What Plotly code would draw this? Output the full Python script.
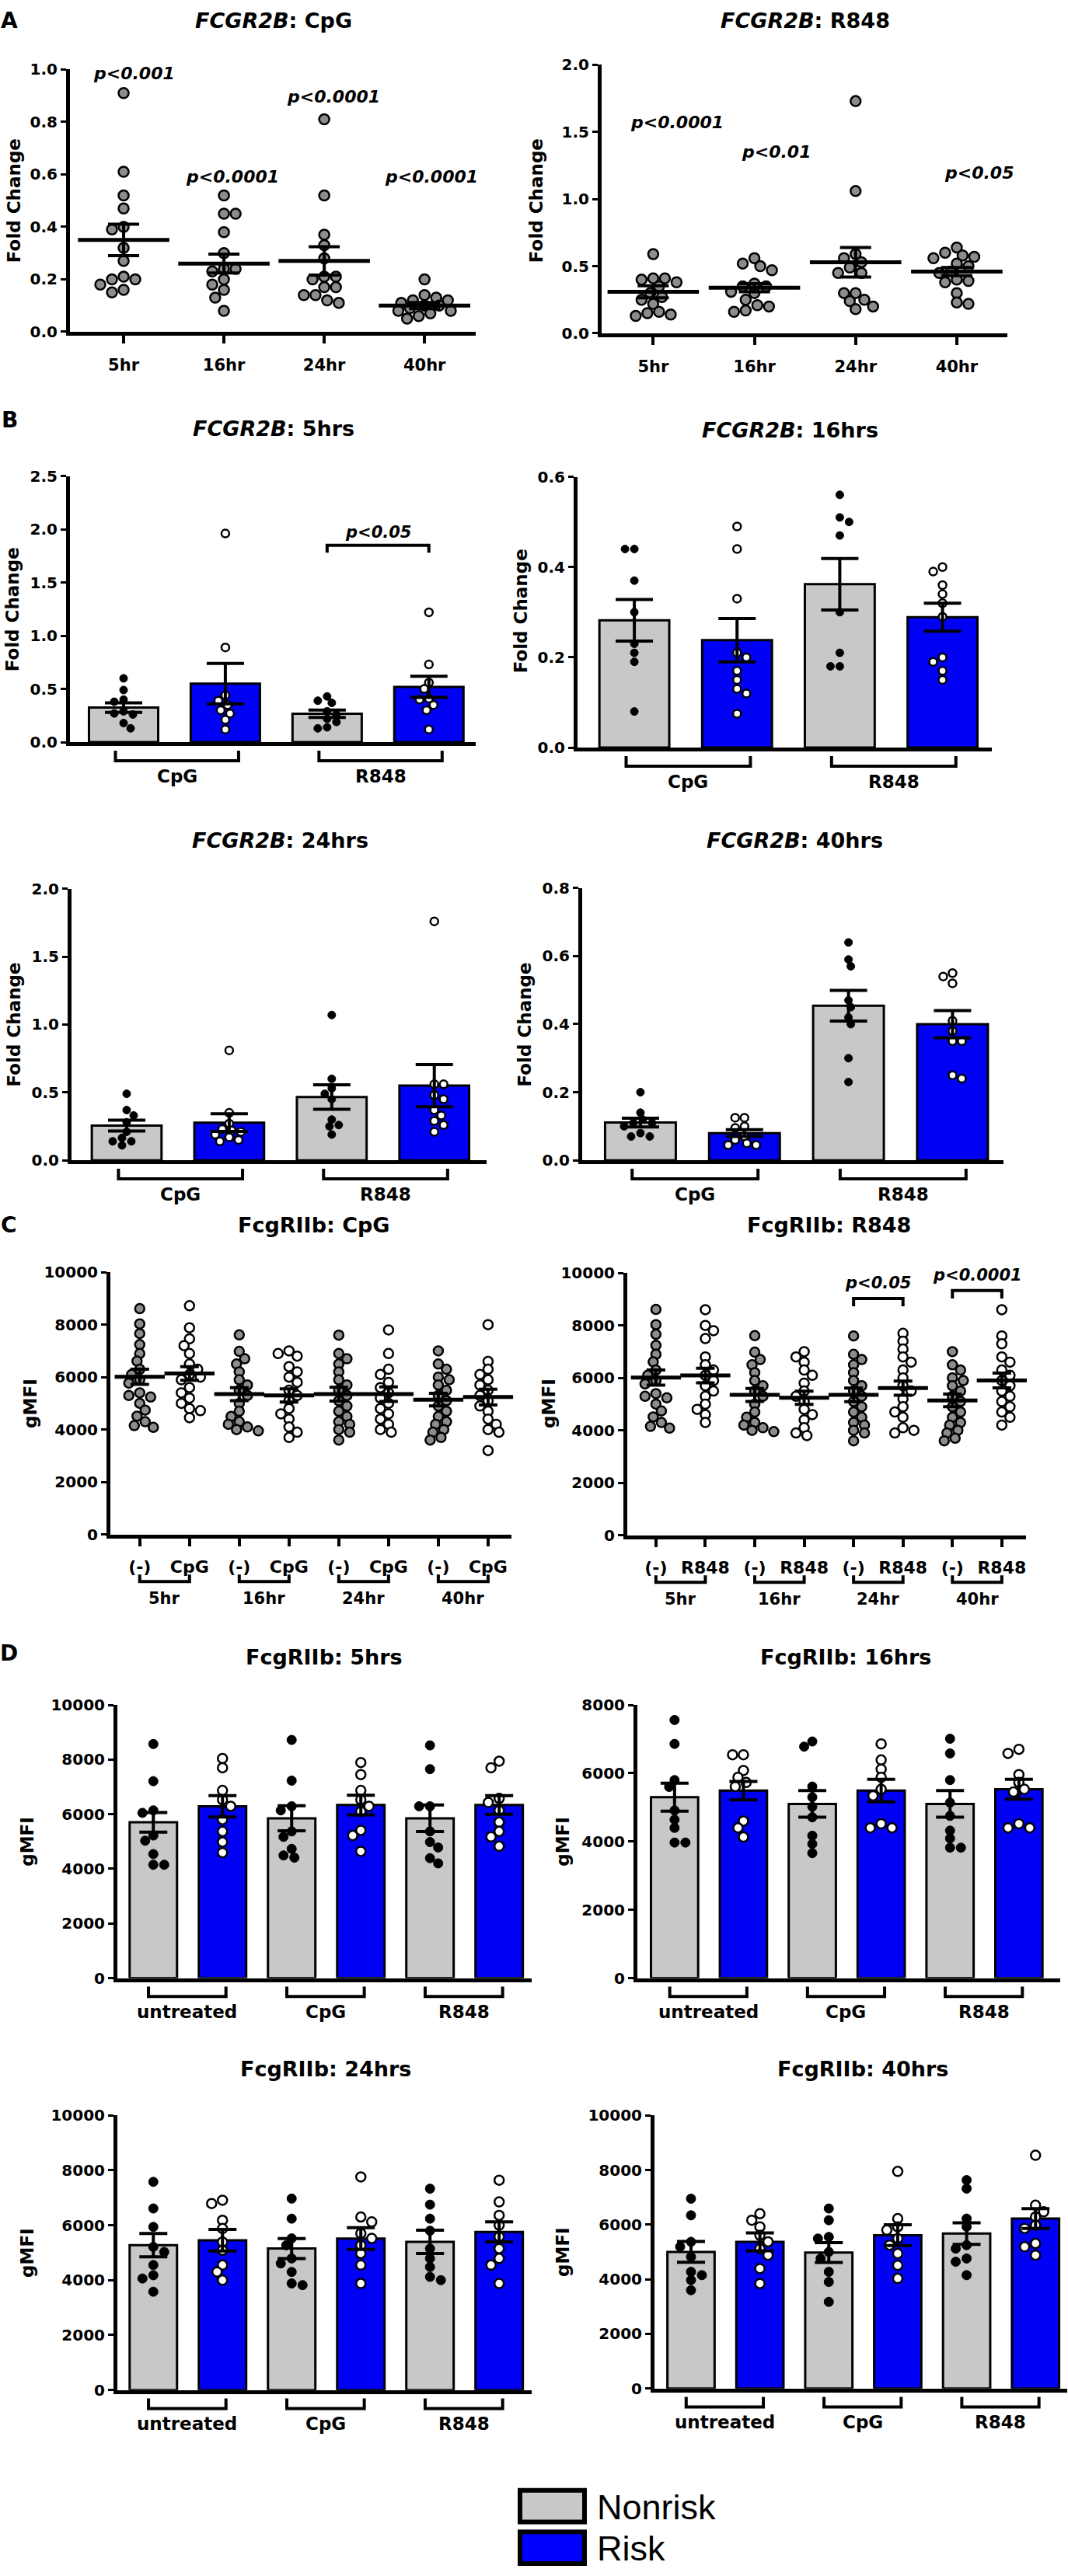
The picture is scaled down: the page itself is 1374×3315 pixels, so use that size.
import plotly.graph_objects as go

# ============================ DATA ============================
time_labels = ["5hr", "16hr", "24hr", "40hr"]

# ---- Panel A: FCGR2B fold change, individual donors ----
a_cpg_5hr = [0.91, 0.61, 0.52, 0.47, 0.40, 0.39, 0.32, 0.27, 0.21, 0.20, 0.20, 0.18, 0.16, 0.15]
a_cpg_16hr = [0.52, 0.45, 0.45, 0.38, 0.30, 0.24, 0.24, 0.23, 0.20, 0.18, 0.16, 0.13, 0.08]
a_cpg_24hr = [0.81, 0.52, 0.37, 0.33, 0.28, 0.21, 0.21, 0.20, 0.17, 0.17, 0.14, 0.14, 0.12, 0.11]
a_cpg_40hr = [0.20, 0.14, 0.13, 0.12, 0.12, 0.11, 0.10, 0.10, 0.09, 0.08, 0.08, 0.07, 0.06, 0.05]
a_cpg_means = [0.35, 0.26, 0.27, 0.10]
a_cpg_sems = [0.06, 0.036, 0.054, 0.012]
a_cpg_pvals = ["p<0.001", "p<0.0001", "p<0.0001", "p<0.0001"]

a_r848_5hr = [0.59, 0.41, 0.41, 0.40, 0.38, 0.35, 0.30, 0.27, 0.25, 0.22, 0.16, 0.15, 0.14, 0.13]
a_r848_16hr = [0.56, 0.52, 0.50, 0.47, 0.37, 0.35, 0.35, 0.31, 0.30, 0.25, 0.21, 0.20, 0.17, 0.16]
a_r848_24hr = [1.73, 1.06, 0.59, 0.56, 0.53, 0.49, 0.45, 0.45, 0.30, 0.30, 0.25, 0.24, 0.20, 0.18]
a_r848_40hr = [0.64, 0.60, 0.58, 0.57, 0.56, 0.52, 0.50, 0.46, 0.45, 0.40, 0.39, 0.38, 0.30, 0.23, 0.22]
a_r848_means = [0.31, 0.34, 0.53, 0.46]
a_r848_sems = [0.045, 0.03, 0.11, 0.03]
a_r848_pvals = ["p<0.0001", "p<0.01", "", "p<0.05"]

# ---- Panel B: FCGR2B fold change by genotype ----
# group order: CpG-Nonrisk, CpG-Risk, R848-Nonrisk, R848-Risk
b_stim_labels = ["CpG", "R848"]
b_5hr_points = [[0.60, 0.49, 0.40, 0.38, 0.29, 0.27, 0.26, 0.18, 0.13],
                [1.96, 0.89, 0.44, 0.39, 0.35, 0.30, 0.27, 0.21, 0.12],
                [0.43, 0.39, 0.37, 0.29, 0.26, 0.22, 0.19, 0.14, 0.13],
                [1.22, 0.73, 0.56, 0.50, 0.41, 0.40, 0.35, 0.30, 0.12]]
b_5hr_means = [0.325, 0.55, 0.267, 0.52]
b_5hr_sems = [0.045, 0.19, 0.035, 0.10]

b_16hr_points = [[0.44, 0.44, 0.37, 0.30, 0.23, 0.21, 0.19, 0.08],
                 [0.49, 0.44, 0.33, 0.21, 0.20, 0.17, 0.15, 0.13, 0.12, 0.075],
                 [0.56, 0.51, 0.50, 0.47, 0.30, 0.21, 0.18, 0.18],
                 [0.40, 0.39, 0.36, 0.34, 0.32, 0.29, 0.20, 0.19, 0.17, 0.15]]
b_16hr_means = [0.282, 0.238, 0.362, 0.289]
b_16hr_sems = [0.046, 0.048, 0.057, 0.031]

b_24hr_points = [[0.49, 0.37, 0.33, 0.28, 0.21, 0.165, 0.14, 0.14, 0.11],
                 [0.81, 0.35, 0.27, 0.23, 0.22, 0.21, 0.19, 0.17, 0.15, 0.14],
                 [1.07, 0.60, 0.53, 0.49, 0.45, 0.30, 0.26, 0.25, 0.19],
                 [1.76, 0.56, 0.56, 0.48, 0.45, 0.37, 0.33, 0.29, 0.26, 0.21]]
b_24hr_means = [0.256, 0.278, 0.466, 0.55]
b_24hr_sems = [0.04, 0.065, 0.09, 0.155]

b_40hr_points = [[0.20, 0.14, 0.12, 0.11, 0.11, 0.10, 0.08, 0.07, 0.07],
                 [0.125, 0.125, 0.10, 0.095, 0.07, 0.06, 0.05, 0.045, 0.045],
                 [0.64, 0.59, 0.57, 0.47, 0.45, 0.42, 0.40, 0.30, 0.23],
                 [0.55, 0.54, 0.52, 0.41, 0.38, 0.35, 0.35, 0.25, 0.24]]
b_40hr_means = [0.111, 0.08, 0.454, 0.40]
b_40hr_sems = [0.013, 0.01, 0.045, 0.04]

# ---- Panel C: FcgRIIb gMFI, individual donors ----
c_unstim_5hr = [8610, 8030, 7660, 7240, 6900, 6610, 6300, 6100, 5900, 5770, 5400, 5300, 5240, 5000, 4740, 4510, 4300, 4150, 4085]
c_unstim_16hr = [7610, 6980, 6700, 6500, 6200, 5900, 5700, 5500, 5300, 5000, 4700, 4500, 4300, 4200, 4100, 4000, 3950]
c_unstim_24hr = [7600, 6900, 6700, 6500, 6200, 5900, 5700, 5500, 5300, 5100, 4900, 4700, 4500, 4300, 4200, 4000, 3900, 3600]
c_unstim_40hr = [7000, 6500, 6300, 6000, 5900, 5700, 5500, 5300, 5100, 4900, 4700, 4500, 4300, 4200, 4000, 3900, 3700, 3600]
c_unstim_means = [6010, 5350, 5350, 5140]
c_unstim_sems = [290, 250, 260, 240]

c_cpg_5hr = [8720, 7880, 7460, 7200, 6900, 6500, 6300, 6100, 6000, 5900, 5600, 5400, 5200, 5000, 4800, 4720, 4450]
c_cpg_16hr = [7000, 6900, 6800, 6400, 6200, 6000, 5800, 5500, 5300, 5100, 4800, 4600, 4400, 4100, 3900, 3700]
c_cpg_24hr = [7800, 6900, 6300, 6100, 5800, 5600, 5400, 5200, 5000, 4800, 4600, 4400, 4200, 4000, 3900]
c_cpg_40hr = [8000, 6600, 6300, 6100, 5900, 5700, 5500, 5300, 5100, 4900, 4700, 4400, 4200, 4000, 3900, 3200]
c_cpg_means = [6140, 5300, 5350, 5240]
c_cpg_sems = [260, 250, 280, 300]

c_r848_5hr = [8600, 8000, 7800, 7500, 6800, 6500, 6300, 6100, 5900, 5700, 5500, 5300, 5000, 4800, 4600, 4300]
c_r848_16hr = [7000, 6800, 6600, 6300, 6100, 5800, 5500, 5300, 5100, 4800, 4600, 4400, 4100, 3900, 3800]
c_r848_24hr = [7700, 7400, 7100, 6800, 6600, 6300, 6000, 5700, 5500, 5200, 4900, 4700, 4500, 4100, 4000, 3900]
c_r848_40hr = [8600, 7600, 7300, 6800, 6600, 6300, 6100, 5900, 5700, 5500, 5300, 5100, 4900, 4700, 4500, 4200]
c_r848_means = [6090, 5240, 5610, 5900]
c_r848_sems = [280, 250, 270, 280]
c_r848_pvals = [("p<0.05", 4, 5, 9030), ("p<0.0001", 6, 7, 9330)]

# ---- Panel D: FcgRIIb gMFI by genotype ----
# group order: untreated-Nonrisk, untreated-Risk, CpG-Nonrisk, CpG-Risk, R848-Nonrisk, R848-Risk
d_treat_labels = ["untreated", "CpG", "R848"]
d_5hr_points = [[8570, 7210, 6140, 6050, 5220, 5030, 4540, 4150, 4150],
                [8040, 7700, 6870, 6530, 6290, 5800, 5370, 4980, 4590],
                [8720, 7230, 6290, 6140, 5370, 5170, 4730, 4490, 4410],
                [7890, 7450, 6870, 6530, 6290, 6100, 5410, 5220, 4640],
                [8520, 7650, 6290, 6290, 5370, 4980, 4780, 4390, 4200],
                [7940, 7700, 6580, 6430, 6140, 5710, 5370, 5170, 4830]]
d_5hr_means = [5705, 6289, 5851, 6337, 5851, 6337]
d_5hr_sems = [360, 390, 460, 360, 485, 340]

d_16hr_points = [[7560, 6860, 5800, 5600, 4910, 4640, 4400, 3970, 3970],
                 [6540, 6540, 6080, 5880, 5730, 5610, 4600, 4400, 4130],
                 [6930, 6780, 5610, 5300, 5020, 4710, 4170, 3930, 3660],
                 [6860, 6390, 6120, 5880, 5530, 5340, 4520, 4400, 4400],
                 [7010, 6580, 5800, 5140, 4750, 4320, 4090, 3820, 3820],
                 [6700, 6580, 5960, 5730, 5530, 5450, 4520, 4400, 4400]]
d_16hr_means = [5297, 5492, 5102, 5492, 5102, 5531]
d_16hr_sems = [410, 270, 390, 330, 390, 290]

d_24hr_points = [[7580, 6610, 5940, 5210, 5030, 4550, 4180, 4060, 3580],
                 [6910, 6790, 6180, 5880, 5390, 5090, 4550, 4300, 4000],
                 [6970, 6240, 5520, 5270, 4790, 4610, 4300, 3880, 3820],
                 [7760, 6300, 6120, 5700, 5520, 5270, 4970, 4550, 3880],
                 [7330, 6750, 6240, 5800, 5150, 4790, 4480, 4120, 4000],
                 [7640, 6850, 6360, 6000, 5580, 5150, 4790, 4550, 3880]]
d_24hr_means = [5272, 5454, 5151, 5515, 5394, 5757]
d_24hr_sems = [425, 390, 365, 395, 425, 365]

d_40hr_points = [[6950, 6340, 5370, 5190, 4820, 4270, 4150, 3970, 3600],
                 [6400, 6160, 5920, 5610, 5370, 5120, 4880, 4390, 3840],
                 [6590, 6160, 5550, 5490, 5000, 4760, 4270, 3900, 3170],
                 [7950, 6220, 5920, 5800, 5490, 5250, 4940, 4510, 4030],
                 [7630, 7320, 6220, 5920, 5250, 5120, 4760, 4640, 4150],
                 [8540, 6710, 6470, 6280, 5980, 5860, 5310, 5190, 4880]]
d_40hr_means = [5002, 5368, 4978, 5612, 5673, 6222]
d_40hr_sems = [380, 330, 365, 380, 395, 365]

legend_labels = ["Nonrisk", "Risk"]

# ============================ STYLE / LAYOUT ============================
W, H = 1374, 3315
FONT = "DejaVu Sans"
GRAY_BAR = "#c8c8c8"
BLUE = "#0000f5"
PT_GRAY = "#8c8c8c"

fig = go.Figure()
axes_layout = {}
shapes = []
annots = []
_n = [0]


def fy(py):
    return 1 - py / H


def new_axes(g, ytickvals, yfmt, xtickvals=None, xticktext=None):
    _n[0] += 1
    i = _n[0]
    s = "" if i == 1 else str(i)
    x0, x1, yt, yb = g["x0"], g["x1"], g["ytop"], g["ybot"]
    xa = dict(domain=[x0 / W, x1 / W], range=g["xr"], anchor="y" + s,
              showgrid=False, zeroline=False, showline=True,
              linecolor="black", linewidth=5, fixedrange=True)
    if xtickvals is not None:
        xa.update(tickmode="array", tickvals=xtickvals, ticktext=xticktext,
                  ticks="outside", ticklen=10, tickwidth=4, tickcolor="black",
                  tickfont=dict(family=FONT, size=g.get("xfont", 21), color="black", weight="bold"),
                  ticklabelstandoff=g.get("xstand", 8))
    else:
        xa.update(showticklabels=False, ticks="")
    ya = dict(domain=[1 - yb / H, 1 - yt / H], range=g["yr"], anchor="x" + s,
              showgrid=False, zeroline=False, showline=True,
              linecolor="black", linewidth=5, fixedrange=True,
              tickmode="array", tickvals=ytickvals,
              ticktext=[yfmt(v) for v in ytickvals],
              ticks="outside", ticklen=7, tickwidth=3, tickcolor="black",
              tickfont=dict(family=FONT, size=20, color="black", weight="bold"))
    axes_layout["xaxis" + s] = xa
    axes_layout["yaxis" + s] = ya
    ppx = (x1 - x0) / (g["xr"][1] - g["xr"][0])
    ppy = (yb - yt) / (g["yr"][1] - g["yr"][0])
    return "x" + s, "y" + s, ppx, ppy


def swarm(vals, ppy, dx, dy, maxw):
    """Deterministic beeswarm layout: horizontal pixel offsets avoiding overlap."""
    ys = [v * ppy for v in vals]
    order = sorted(range(len(vals)), key=lambda k: -vals[k])
    step = dx / 4.0
    placed, offs = [], [0.0] * len(vals)
    for n_i, i in enumerate(order):
        sign = 1 if n_i % 2 == 0 else -1
        cands = [0.0]
        k = 1
        while k * step <= maxw:
            cands += [sign * k * step, -sign * k * step]
            k += 1
        chosen, best_c, best_s = None, 0.0, -1.0
        for c in cands:
            sc = min((((c - o) / dx) ** 2 + ((ys[i] - y) / dy) ** 2 for o, y in placed), default=99.0)
            if sc >= 1.0:
                chosen = c
                break
            if sc > best_s:
                best_s, best_c = sc, c
        if chosen is None:
            chosen = best_c
        offs[i] = chosen
        placed.append((chosen, ys[i]))
    return offs


def add_points(xa, ya, ppx, ppy, cat, vals, marker, dx, dy, maxw):
    offs = swarm(vals, ppy, dx, dy, maxw)
    fig.add_trace(go.Scatter(x=[cat + o / ppx for o in offs], y=vals, mode="markers",
                             marker=marker, xaxis=xa, yaxis=ya, showlegend=False,
                             hoverinfo="skip", cliponaxis=False))


def add_mean_sem(xa, ya, cats, means, sems, cap, mean_len=None):
    if mean_len:
        fig.add_trace(go.Scatter(x=cats, y=means, mode="markers",
                                 marker=dict(symbol="line-ew", size=mean_len, color="black",
                                             line=dict(color="black", width=5)),
                                 xaxis=xa, yaxis=ya, showlegend=False, hoverinfo="skip",
                                 cliponaxis=False))
    fig.add_trace(go.Scatter(x=cats, y=means, mode="markers",
                             marker=dict(size=2, color="rgba(0,0,0,0)"),
                             error_y=dict(type="data", array=sems, visible=True, width=cap,
                                          thickness=4, color="black"),
                             xaxis=xa, yaxis=ya, showlegend=False, hoverinfo="skip",
                             cliponaxis=False))


def text(t, xpx, ypx, size, angle=0, xanchor="center", family=FONT):
    annots.append(dict(text=t, x=xpx / W, y=fy(ypx), xref="paper", yref="paper",
                       showarrow=False, xanchor=xanchor, yanchor="middle", textangle=angle,
                       font=dict(family=family, size=size, color="black")))


def group_bracket(xa, xl, xr_, g, label, off_h, off_tip, off_lab, size):
    yb = g["ybot"]
    shapes.append(dict(type="path", xref=xa, yref="paper",
                       path=f"M {xl},{fy(yb + off_tip)} L {xl},{fy(yb + off_h)} L {xr_},{fy(yb + off_h)} L {xr_},{fy(yb + off_tip)}",
                       line=dict(color="black", width=4)))
    annots.append(dict(text=f"<b>{label}</b>", x=(xl + xr_) / 2, y=fy(yb + off_lab), xref=xa, yref="paper",
                       showarrow=False, xanchor="center", yanchor="middle",
                       font=dict(family=FONT, size=size, color="black")))


def p_bracket(xa, ya, x0, x1, y, drop, label, ytext):
    shapes.append(dict(type="path", xref=xa, yref=ya,
                       path=f"M {x0},{y - drop} L {x0},{y} L {x1},{y} L {x1},{y - drop}",
                       line=dict(color="black", width=4)))
    annots.append(dict(text=f"<b><i>{label.replace('<', '&lt;')}</i></b>", x=(x0 + x1) / 2, y=ytext,
                       xref=xa, yref=ya, showarrow=False, xanchor="center", yanchor="middle",
                       font=dict(family=FONT, size=21, color="black")))


fc_fmt = lambda v: f"{v:.1f}"
int_fmt = lambda v: f"{int(v)}"

# ---------------- Panel A ----------------
mk_A = dict(size=13, color=PT_GRAY, line=dict(color="black", width=2.5))
A_geo = [dict(x0=90, x1=612, ytop=78, ybot=418, xr=[-0.535, 3.51], yr=[0, 1.0], xstand=10),
         dict(x0=774, x1=1296, ytop=72, ybot=420, xr=[-0.51, 3.5], yr=[0, 2.0], xstand=10)]
A_sets = [([a_cpg_5hr, a_cpg_16hr, a_cpg_24hr, a_cpg_40hr], a_cpg_means, a_cpg_sems, a_cpg_pvals,
           [0.0, 0.2, 0.4, 0.6, 0.8, 1.0], [0.985, 0.59, 0.897, 0.59], [13, 11, 12, 9]),
          ([a_r848_5hr, a_r848_16hr, a_r848_24hr, a_r848_40hr], a_r848_means, a_r848_sems, a_r848_pvals,
           [0.0, 0.5, 1.0, 1.5, 2.0], [1.57, 1.35, 0, 1.195], [31, 28, 0, 29])]
for g, (groups, means, sems, pv, yt, pvy, pvx) in zip(A_geo, A_sets):
    xa, ya, ppx, ppy = new_axes(g, yt, fc_fmt, list(range(4)), time_labels)
    for c, vals in enumerate(groups):
        add_points(xa, ya, ppx, ppy, c, vals, mk_A, 15, 12, 36)
    add_mean_sem(xa, ya, list(range(4)), means, sems, 20, 84)
    for c, t in enumerate(pv):
        if t:
            annots.append(dict(text=f"<b><i>{t.replace('<', '&lt;')}</i></b>", x=c, y=pvy[c], xshift=pvx[c],
                               xref=xa, yref=ya, showarrow=False, xanchor="center", yanchor="middle",
                               font=dict(family=FONT, size=22, color="black")))

# ---------------- Panel B ----------------
mk_fill = dict(size=10, color="black", line=dict(color="black", width=1))
mk_open = dict(size=10, color="white", line=dict(color="black", width=2.5))
B_geo = [dict(x0=90, x1=612, ytop=605, ybot=950, xr=[-0.527, 3.46], yr=[0, 2.5]),
         dict(x0=743, x1=1276, ytop=606, ybot=957, xr=[-0.553, 3.48], yr=[0, 0.6]),
         dict(x0=92, x1=626, ytop=1140, ybot=1492, xr=[-0.538, 3.51], yr=[0, 2.0]),
         dict(x0=749, x1=1291, ytop=1139, ybot=1492, xr=[-0.56, 3.49], yr=[0, 0.8])]
B_sets = [(b_5hr_points, b_5hr_means, b_5hr_sems, [0.0, 0.5, 1.0, 1.5, 2.0, 2.5]),
          (b_16hr_points, b_16hr_means, b_16hr_sems, [0.0, 0.2, 0.4, 0.6]),
          (b_24hr_points, b_24hr_means, b_24hr_sems, [0.0, 0.5, 1.0, 1.5, 2.0]),
          (b_40hr_points, b_40hr_means, b_40hr_sems, [0.0, 0.2, 0.4, 0.6, 0.8])]
B_axes = []
for g, (pts, means, sems, yt) in zip(B_geo, B_sets):
    xa, ya, ppx, ppy = new_axes(g, yt, fc_fmt)
    B_axes.append((xa, ya))
    cats = list(range(4))
    fig.add_trace(go.Bar(x=cats, y=means, width=0.68,
                         marker=dict(color=[GRAY_BAR, BLUE, GRAY_BAR, BLUE], line=dict(color="black", width=3)),
                         xaxis=xa, yaxis=ya, showlegend=False, hoverinfo="skip"))
    for c, vals in enumerate(pts):
        add_points(xa, ya, ppx, ppy, c, vals, mk_fill if c % 2 == 0 else mk_open, 12, 9, 26)
    add_mean_sem(xa, ya, cats, means, sems, 24)
    for k, lab in enumerate(b_stim_labels):
        group_bracket(xa, 2 * k - 0.08, 2 * k + 1.13, g, lab, 24, 11, 44, 23)
p_bracket(B_axes[0][0], B_axes[0][1], 2, 3, 1.85, 0.07, "p<0.05", 1.97)

# ---------------- Panel C ----------------
mk_Cg = dict(size=12, color=PT_GRAY, line=dict(color="black", width=2.5))
mk_Co = dict(size=12, color="white", line=dict(color="black", width=2.5))
C_geo = [dict(x0=142, x1=658, ytop=1637, ybot=1977, xr=[-0.59, 7.47], yr=[0, 10000], xfont=22, xstand=8),
         dict(x0=807, x1=1320, ytop=1638, ybot=1978, xr=[-0.58, 7.49], yr=[0, 10000], xfont=22, xstand=8)]
C_sets = [("CpG", [c_cpg_5hr, c_cpg_16hr, c_cpg_24hr, c_cpg_40hr], c_cpg_means, c_cpg_sems),
          ("R848", [c_r848_5hr, c_r848_16hr, c_r848_24hr, c_r848_40hr], c_r848_means, c_r848_sems)]
unstim = [c_unstim_5hr, c_unstim_16hr, c_unstim_24hr, c_unstim_40hr]
C_axes = []
for g, (stim, stim_groups, s_means, s_sems) in zip(C_geo, C_sets):
    ticktext = []
    for t in range(4):
        ticktext += ["(-)", stim]
    xa, ya, ppx, ppy = new_axes(g, [0, 2000, 4000, 6000, 8000, 10000], int_fmt, list(range(8)), ticktext)
    C_axes.append((xa, ya))
    means, sems = [], []
    for t in range(4):
        add_points(xa, ya, ppx, ppy, 2 * t, unstim[t], mk_Cg, 14, 10, 26)
        add_points(xa, ya, ppx, ppy, 2 * t + 1, stim_groups[t], mk_Co, 14, 10, 26)
        means += [c_unstim_means[t], s_means[t]]
        sems += [c_unstim_sems[t], s_sems[t]]
    add_mean_sem(xa, ya, list(range(8)), means, sems, 12, 46)
    for t, lab in enumerate(time_labels):
        group_bracket(xa, 2 * t, 2 * t + 1, g, lab, 61, 52, 83, 21)
for lab, c0, c1, yv in c_r848_pvals:
    p_bracket(C_axes[1][0], C_axes[1][1], c0, c1, yv, 300, lab, yv + 580)

# ---------------- Panel D ----------------
mk_Df = dict(size=12, color="black", line=dict(color="black", width=1))
mk_Do = dict(size=12, color="white", line=dict(color="black", width=2.5))
D_geo = [dict(x0=151, x1=684, ytop=2198, ybot=2552, xr=[-0.52, 5.47], yr=[0, 10000]),
         dict(x0=820, x1=1364, ytop=2198, ybot=2552, xr=[-0.54, 5.6], yr=[0, 8000]),
         dict(x0=151, x1=684, ytop=2730, ybot=3086, xr=[-0.52, 5.47], yr=[0, 10000]),
         dict(x0=842, x1=1373, ytop=2730, ybot=3084, xr=[-0.53, 5.46], yr=[0, 10000])]
D_sets = [(d_5hr_points, d_5hr_means, d_5hr_sems, [0, 2000, 4000, 6000, 8000, 10000]),
          (d_16hr_points, d_16hr_means, d_16hr_sems, [0, 2000, 4000, 6000, 8000]),
          (d_24hr_points, d_24hr_means, d_24hr_sems, [0, 2000, 4000, 6000, 8000, 10000]),
          (d_40hr_points, d_40hr_means, d_40hr_sems, [0, 2000, 4000, 6000, 8000, 10000])]
for g, (pts, means, sems, yt) in zip(D_geo, D_sets):
    xa, ya, ppx, ppy = new_axes(g, yt, int_fmt)
    cats = list(range(6))
    fig.add_trace(go.Bar(x=cats, y=means, width=0.685,
                         marker=dict(color=[GRAY_BAR, BLUE] * 3, line=dict(color="black", width=3)),
                         xaxis=xa, yaxis=ya, showlegend=False, hoverinfo="skip"))
    for c, vals in enumerate(pts):
        add_points(xa, ya, ppx, ppy, c, vals, mk_Df if c % 2 == 0 else mk_Do, 14, 10, 22)
    add_mean_sem(xa, ya, cats, means, sems, 18)
    for k, lab in enumerate(d_treat_labels):
        group_bracket(xa, 2 * k - 0.07, 2 * k + 1.05, g, lab, 24, 11, 44, 23)

# ---------------- Titles, panel letters, axis titles ----------------
titles = [("<b><i>FCGR2B</i>: CpG</b>", 352, 15), ("<b><i>FCGR2B</i>: R848</b>", 1036, 15),
          ("<b><i>FCGR2B</i>: 5hrs</b>", 352, 543), ("<b><i>FCGR2B</i>: 16hrs</b>", 1016, 545),
          ("<b><i>FCGR2B</i>: 24hrs</b>", 360, 1077), ("<b><i>FCGR2B</i>: 40hrs</b>", 1022, 1077),
          ("<b>FcgRIIb: CpG</b>", 404, 1576), ("<b>FcgRIIb: R848</b>", 1066, 1576),
          ("<b>FcgRIIb: 5hrs</b>", 417, 2136), ("<b>FcgRIIb: 16hrs</b>", 1088, 2136),
          ("<b>FcgRIIb: 24hrs</b>", 419, 2670), ("<b>FcgRIIb: 40hrs</b>", 1110, 2670)]
for t, x, y in titles:
    text(t, x, y, 27)
for t, x, y in [("A", 12, 15), ("B", 12, 532), ("C", 11, 1576), ("D", 11, 2131)]:
    text(f"<b>{t}</b>", x, y, 28)
for x, y in [(18, 248), (690, 248), (16, 778), (670, 780), (18, 1316), (675, 1316)]:
    text("<b>Fold Change</b>", x, y, 23, angle=-90)
for x, y in [(39, 1807), (706, 1807), (35, 2375), (724, 2375), (35, 2908), (724, 2907)]:
    text("<b>gMFI</b>", x, y, 23, angle=-90)

# ---------------- Legend ----------------
for (lab, col, y0, y1) in [(legend_labels[0], GRAY_BAR, 3216, 3257), (legend_labels[1], "#0000ff", 3270, 3311)]:
    shapes.append(dict(type="rect", xref="paper", yref="paper", x0=669 / W, x1=752 / W,
                       y0=fy(y1), y1=fy(y0), fillcolor=col, line=dict(color="black", width=6)))
    text(lab, 766, (y0 + y1) / 2 + 1, 45, xanchor="left", family="Liberation Sans")

fig.update_layout(width=W, height=H, margin=dict(l=0, r=0, t=0, b=0),
                  paper_bgcolor="white", plot_bgcolor="rgba(0,0,0,0)",
                  showlegend=False, barmode="overlay", shapes=shapes, annotations=annots,
                  **axes_layout)

fig.write_html("out.html", config={"displayModeBar": False},
               post_script="document.body.style.margin='0';")
